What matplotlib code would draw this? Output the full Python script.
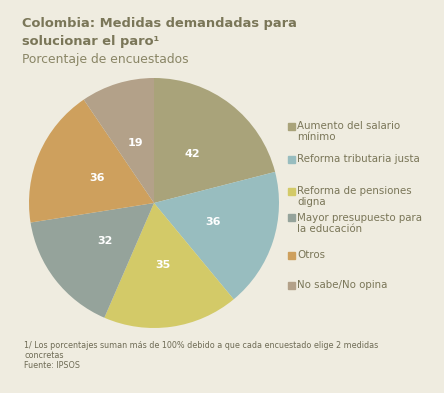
import matplotlib
matplotlib.use("Agg")
import matplotlib.pyplot as plt

categories = ["Aumento del salario\nmínimo", "Reforma tributaria justa", "Reforma de pensiones\ndigna",
              "Mayor presupuesto para\nla educación", "Otros", "No sabe/No opina"]
values = [42, 36, 35, 32, 36, 19]
colors = ["#A9A37A", "#98BDBF", "#D3CA68", "#95A39B", "#CEA05D", "#B3A189"]

bg = "#EFECE0"
W, H = 444, 393
fig = plt.figure(figsize=(W/100, H/100), dpi=100, facecolor=bg)

cx, cy, r = 154, 203, 125
ax = fig.add_axes([(cx-r)/W, 1-(cy+r)/H, 2*r/W, 2*r/H])
ax.set_facecolor(bg)
wedges, texts = ax.pie(values, colors=colors, startangle=90, counterclock=False,
                       labels=[str(v) for v in values], labeldistance=0.5,
                       textprops=dict(color="white", fontsize=8, fontweight="bold"),
                       wedgeprops=dict(linewidth=0))
for t in texts:
    t.set_ha("center")
    t.set_va("center")
ax.set_aspect("equal")
ax.set_xlim(-1, 1); ax.set_ylim(-1, 1)
ax.axis("off")

tcol = "#7A7658"
fig.text(22/W, 1-24/H, "Colombia: Medidas demandadas para", fontsize=9.4, fontweight="bold",
         color=tcol, va="center", ha="left")
fig.text(22/W, 1-42/H, "solucionar el paro¹", fontsize=9.4, fontweight="bold",
         color=tcol, va="center", ha="left")
fig.text(22/W, 1-59/H, "Porcentaje de encuestados", fontsize=8.9, color="#8A8666",
         va="center", ha="left")

ys = [126, 159, 191, 218, 255, 285]
for lab, col, y in zip(categories, colors, ys):
    fig.patches.append(plt.Rectangle((288/W, 1-(y+3.5)/H), 7/W, 7/H, color=col,
                                     transform=fig.transFigure, figure=fig))
    fig.text(297/W, 1-(y-5)/H, lab, fontsize=7.4, color="#7A7658", va="top", ha="left",
             linespacing=1.15)

fcol = "#6E6B55"
foot = ["1/ Los porcentajes suman más de 100% debido a que cada encuestado elige 2 medidas",
        "concretas", "Fuente: IPSOS"]
for line, yb in zip(foot, [347.5, 357.5, 367.5]):
    fig.text(24/W, 1-yb/H, line, fontsize=5.8, color=fcol, va="baseline", ha="left")

fig.savefig("out.png", dpi=100, facecolor=bg)
